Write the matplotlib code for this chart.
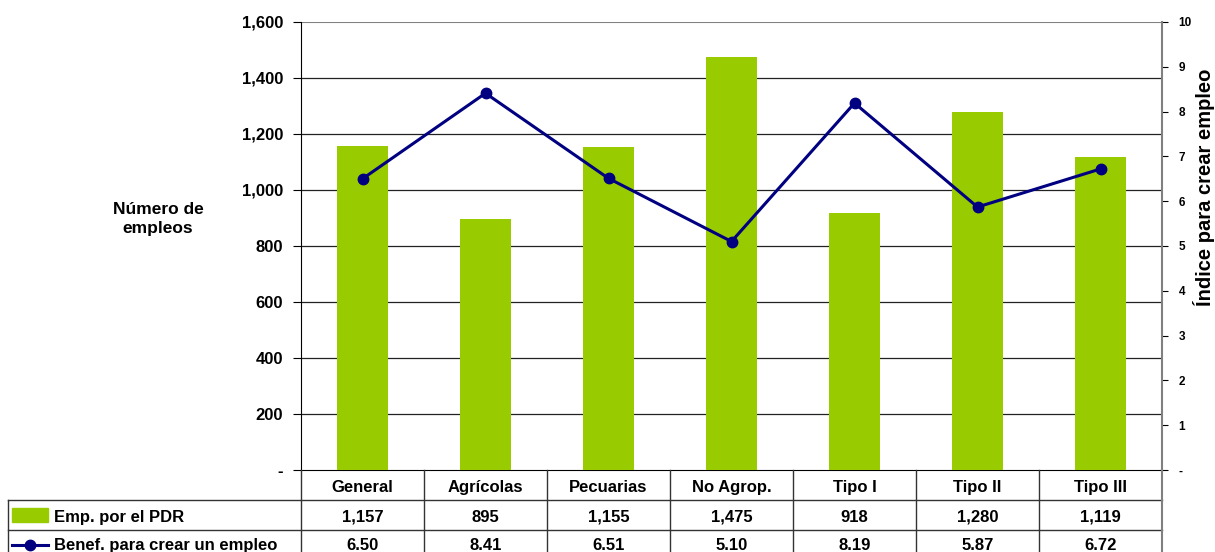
import matplotlib
matplotlib.use("Agg")
import matplotlib.pyplot as plt
from matplotlib.lines import Line2D
from matplotlib.patches import Rectangle

plt.rcParams['font.family'] = ['Liberation Sans', 'DejaVu Sans']
plt.rcParams['font.weight'] = 'bold'

categorias = ["General", "Agrícolas", "Pecuarias", "No Agrop.", "Tipo I", "Tipo II", "Tipo III"]
empleos = [1157, 895, 1155, 1475, 918, 1280, 1119]
indice = [6.50, 8.41, 6.51, 5.10, 8.19, 5.87, 6.72]
nombre_barras = "Emp. por el PDR"
nombre_linea = "Benef. para crear un empleo"

verde = "#99CC00"
azul = "#000080"
fs = 12

W, H = 1215, 552
fig = plt.figure(figsize=(W / 100, H / 100), dpi=100)

# area del grafico en pixeles
x0, x1, y0, y1 = 301, 1162, 22, 470
ax = fig.add_axes([x0 / W, 1 - y1 / H, (x1 - x0) / W, (y1 - y0) / H])
ax2 = ax.twinx()
ax.set_zorder(ax2.get_zorder() - 1)
ax2.patch.set_visible(False)

xs = range(len(categorias))
ax.bar(xs, empleos, width=0.41, color=verde, zorder=3)
ax2.plot(xs, indice, color=azul, lw=2.2, marker="o", markersize=7.5, zorder=4)

ax.set_xlim(-0.5, len(categorias) - 0.5)
ax.set_ylim(0, 1600)
ax2.set_ylim(0, 10)

ticks_izq = list(range(0, 1601, 200))
ax.set_yticks(ticks_izq)
ax.set_yticklabels(["-" if t == 0 else f"{t:,}" for t in ticks_izq], fontsize=fs, fontweight="bold")
ticks_der = list(range(0, 11))
ax2.set_yticks(ticks_der)
ax2.set_yticklabels(["-" if t == 0 else str(t) for t in ticks_der], fontsize=8.5, fontweight="bold")
ax.set_xticks([])
ax.tick_params(axis="y", length=6, width=0.8, pad=7)
ax2.tick_params(axis="y", length=4, width=0.8, pad=8, colors="black")

for t in ticks_izq[1:-1]:
    ax.axhline(t, color="#222222", lw=0.9, zorder=1)
ax.axhline(1600, color="#808080", lw=1.5, zorder=1)

for a in (ax, ax2):
    a.spines["top"].set_visible(False)
ax.spines["left"].set_color("black")
ax2.spines["right"].set_color("#808080")
ax2.spines["right"].set_linewidth(1.5)
ax2.spines["left"].set_visible(False)
ax2.spines["bottom"].set_visible(False)
ax.spines["right"].set_visible(False)
ax.spines["bottom"].set_color("black")

fig.text(158 / W, 1 - 219 / H, "Número de\nempleos", ha="center", va="center",
         fontsize=12.5, fontweight="bold", linespacing=1.25)
fig.text(1204 / W, 1 - 187 / H, "Índice para crear empleo", ha="center", va="center",
         rotation=90, fontsize=14.5, fontweight="bold")

# tabla de datos bajo el grafico
tab = fig.add_axes([0, 0, 1, 1])
tab.set_xlim(0, W)
tab.set_ylim(H, 0)
tab.axis("off")

n = len(categorias)
ancho = (x1 - x0) / n
fila = 30
filas_y = [y1, y1 + fila, y1 + 2 * fila, y1 + 3 * fila]
izq = 8
lc = "#333333"

for y in filas_y[1:3]:
    tab.add_line(Line2D([izq, x1], [y, y], color=lc, lw=1))
for i in range(1, n):
    xv = x0 + i * ancho
    tab.add_line(Line2D([xv, xv], [y1, H], color=lc, lw=1))
tab.add_line(Line2D([x1, x1], [y1, H], color="#808080", lw=1.5))
tab.add_line(Line2D([x0, x0], [y1, H], color=lc, lw=1))
tab.add_line(Line2D([izq, izq], [filas_y[1], H], color=lc, lw=1))

# la ultima fila queda pegada al borde, se sube un poco
yc = [y1 + fila / 2 + 1, y1 + 1.5 * fila + 1, y1 + 2.5 * fila - 1]
for i, c in enumerate(categorias):
    cx = x0 + (i + 0.5) * ancho
    tab.text(cx, yc[0], c, ha="center", va="center_baseline", fontsize=fs, fontweight="bold")
    tab.text(cx, yc[1], f"{empleos[i]:,}", ha="center", va="center_baseline", fontsize=fs, fontweight="bold")
    tab.text(cx, yc[2], f"{indice[i]:.2f}", ha="center", va="center_baseline", fontsize=fs, fontweight="bold")

# claves de la leyenda en la columna de nombres
tab.add_patch(Rectangle((12, y1 + fila + 8), 36, 14, color=verde))
tab.text(54, yc[1], nombre_barras, ha="left", va="center_baseline", fontsize=fs, fontweight="bold")
tab.add_line(Line2D([12, 48], [y1 + 2.5 * fila, y1 + 2.5 * fila], color=azul, lw=2.2))
tab.add_line(Line2D([30], [y1 + 2.5 * fila], color=azul, marker="o", markersize=7.5))
tab.text(54, yc[2], nombre_linea, ha="left", va="center_baseline", fontsize=fs, fontweight="bold")

fig.savefig("out.png", dpi=100)
